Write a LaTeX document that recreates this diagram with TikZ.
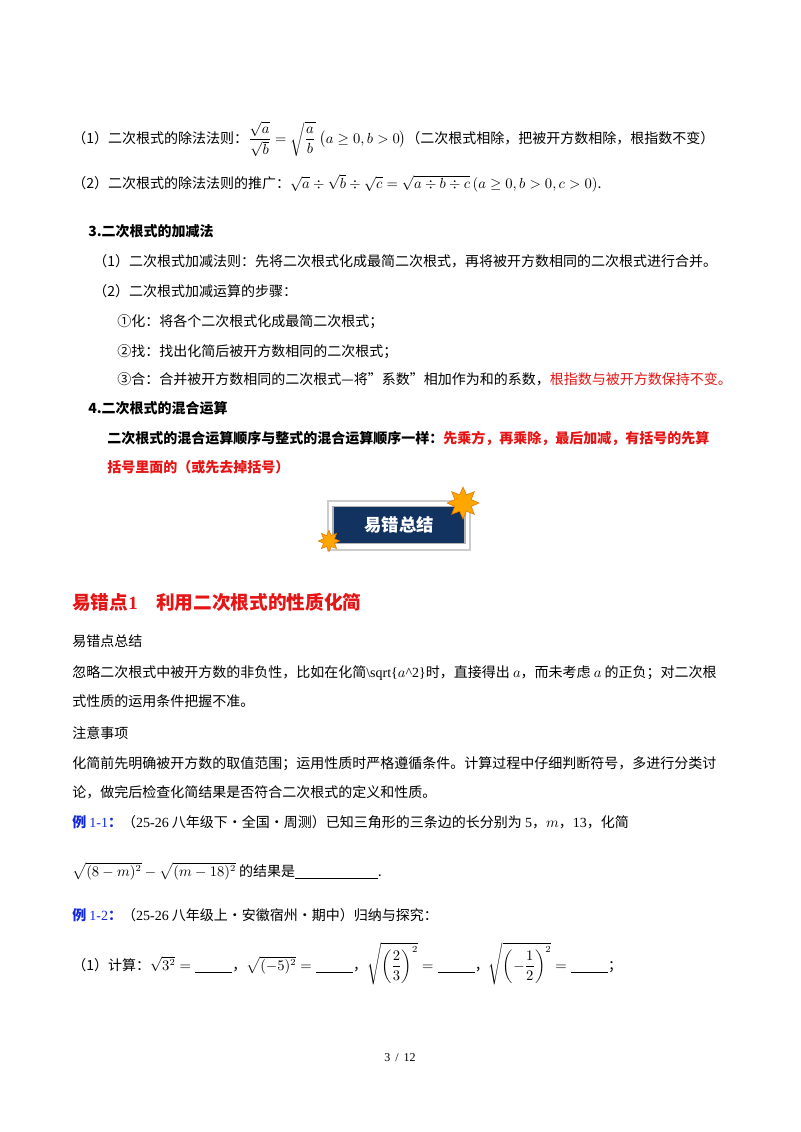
\documentclass[tikz,border=0pt]{standalone}
\usepackage{amsmath,amssymb}
\usepackage{fontspec}
\setmainfont{Liberation Serif}
\newfontfamily\cjk{Noto Sans CJK SC}
\newfontfamily\lat{Liberation Serif}
\usetikzlibrary{shapes.geometric}
\definecolor{myred}{RGB}{230,20,20}
\definecolor{myblue}{RGB}{20,40,220}
\definecolor{navy}{RGB}{18,50,95}
\tikzset{
 ln/.style={anchor=base west,inner sep=0pt,font=\cjk\fontsize{10.5}{12}\selectfont},
 bl/.style={ln,font=\cjk\bfseries\fontsize{10.5}{12}\selectfont},
 starbox/.style={star,star points=8,star point ratio=1.8,fill=orange!70!yellow,draw=orange!90!black,inner sep=0pt},
}
\newcommand{\rd}[1]{\textcolor{myred}{#1}}
\newcommand{\fm}[1]{{\lat #1}}
\begin{document}
\begin{tikzpicture}[x=0.75pt,y=-0.75pt]
\useasboundingbox (0,0) rectangle (800,1132);
\fill[white] (0,0) rectangle (800,1132);
\node[ln] (l1) at (72,143) {（1）二次根式的除法法则：$\dfrac{\sqrt{a}}{\sqrt{b}}=\sqrt{\dfrac{a}{b}}\;\bigl(a\ge0,b>0\bigr)$（二次根式相除，把被开方数相除，根指数不变）};
\node[ln] (l2) at (72,188) {（2）二次根式的除法法则的推广：$\sqrt{a}\div\sqrt{b}\div\sqrt{c}=\sqrt{a\div b\div c}\,(a\ge0,b>0,c>0)$.};
\node[bl] (h3) at (88,236) {3.二次根式的加减法};
\node[ln] (l3) at (93,266) {（1）二次根式加减法则：先将二次根式化成最简二次根式，再将被开方数相同的二次根式进行合并。};
\node[ln] (l4) at (93,296) {（2）二次根式加减运算的步骤：};
\node[ln] (l5) at (117,326) {①化：将各个二次根式化成最简二次根式；};
\node[ln] (l6) at (117,356) {②找：找出化简后被开方数相同的二次根式；};
\node[ln] (l7) at (117,384) {③合：合并被开方数相同的二次根式—将”系数”相加作为和的系数，\rd{根指数与被开方数保持不变。}};
\node[bl] (h4) at (88,413) {4.二次根式的混合运算};
\node[bl] (l8) at (107,443) {二次根式的混合运算顺序与整式的混合运算顺序一样：\rd{先乘方，再乘除，最后加减，有括号的先算}};
\node[bl,text=myred] (l9) at (107,472) {括号里面的（或先去掉括号）};
% banner
\draw[gray!40,line width=1pt,fill=white] (328,501) rectangle (470,550);
\node[draw=gray!60,line width=1.2pt,fill=navy,minimum width=99pt,minimum height=28pt,inner sep=0pt,text=white,font=\cjk\bfseries\fontsize{13}{14}\selectfont] (ban) at (399,525) {易错总结};
\node[starbox,minimum size=24pt] (s1) at (463,503) {};
\node[starbox,minimum size=16pt] (s2) at (329,541) {};
\node[ln,font=\cjk\bfseries\fontsize{14}{16}\selectfont,text=myred] (h5) at (72,609) {易错点\fm{1}\quad 利用二次根式的性质化简};
\node[ln] (l10) at (72,646) {易错点总结};
\node[ln] (l11) at (72,677) {忽略二次根式中被开方数的非负性，比如在化简\fm{\textbackslash sqrt\{}$a$\fm{\textasciicircum2\}}时，直接得出 $a$，而未考虑 $a$ 的正负；对二次根};
\node[ln] (l12) at (72,706) {式性质的运用条件把握不准。};
\node[ln] (l13) at (72,738) {注意事项};
\node[ln] (l14) at (72,768) {化简前先明确被开方数的取值范围；运用性质时严格遵循条件。计算过程中仔细判断符号，多进行分类讨};
\node[ln] (l15) at (72,797) {论，做完后检查化简结果是否符合二次根式的定义和性质。};
\node[ln] (l16) at (72,827) {\textcolor{myblue}{\bfseries 例 \fm{\mdseries 1-1}：}（\fm{25-26} 八年级下·全国·周测）已知三角形的三条边的长分别为 \fm{5}，$m$，\fm{13}，化简};
\node[ln] (l17) at (72,876) {$\sqrt{(8-m)^2}-\sqrt{(m-18)^2}$ 的结果是\underline{\hspace{62pt}}.};
\node[ln] (l18) at (72,920) {\textcolor{myblue}{\bfseries 例 \fm{\mdseries 1-2}：}（\fm{25-26} 八年级上·安徽宿州·期中）归纳与探究：};
\node[ln] (l19) at (72,970) {（1）计算：$\sqrt{3^2}=\underline{\hspace{28pt}}$，$\sqrt{(-5)^2}=\underline{\hspace{28pt}}$，$\sqrt{\left(\dfrac23\right)^2}=\underline{\hspace{28pt}}$，$\sqrt{\left(-\dfrac12\right)^2}=\underline{\hspace{28pt}}$；};
\node[anchor=base,inner sep=0pt,font=\fontsize{9}{10}\selectfont] (pg) at (400,1061) {3 \,/\, 12};
\end{tikzpicture}
\end{document}
